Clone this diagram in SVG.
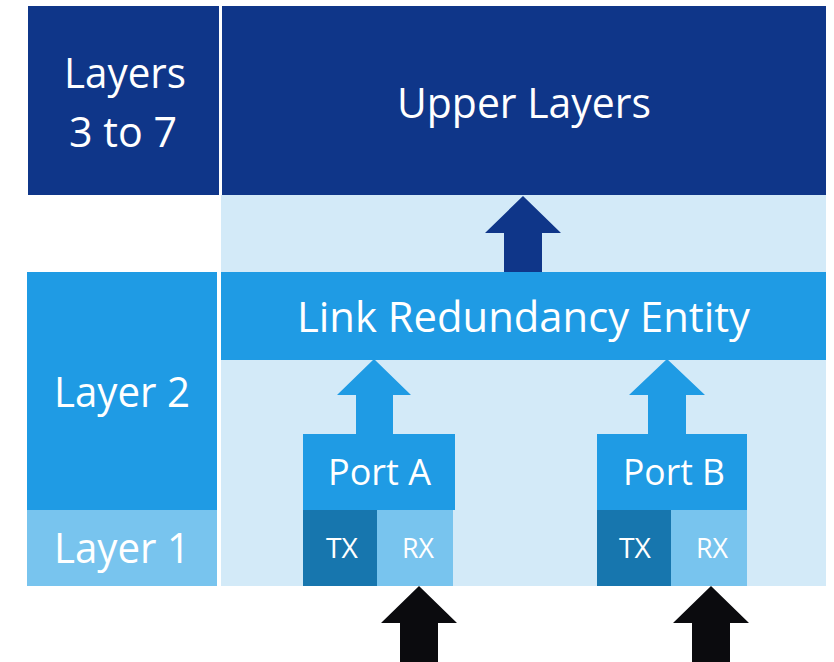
<svg xmlns="http://www.w3.org/2000/svg" width="834" height="662" viewBox="0 0 834 662">
<style>
.t{font-family:"Open Sans","Noto Sans","Liberation Sans",sans-serif;fill:#fff;}
.big{font-size:42px;}
.mid{font-size:36px;}
.sm{font-size:27px;}
.dark{fill:#0F3689;}
.med{fill:#1F9BE4;}
.light{fill:#78C4EE;}
.tx{fill:#1776AE;}
.bg{fill:#D3EAF8;}
.blk{fill:#0B0B0E;}
</style>
<rect width="834" height="662" fill="#fff"/>
<g id="background">
<rect class="bg" x="221" y="195" width="605" height="391"/>
</g>
<g id="layers37">
<rect class="dark" x="28" y="6" width="191" height="189"/>
<text class="t big" x="64" y="88" textLength="122" lengthAdjust="spacingAndGlyphs">Layers</text>
<text class="t big" x="69" y="147" textLength="108" lengthAdjust="spacingAndGlyphs">3 to 7</text>
</g>
<g id="upper">
<rect class="dark" x="222" y="6" width="604" height="189"/>
<text class="t big" x="397" y="118" textLength="254" lengthAdjust="spacingAndGlyphs">Upper Layers</text>
</g>
<g id="layer2">
<rect class="med" x="27" y="272" width="190" height="238"/>
<text class="t big" x="54" y="407" textLength="136" lengthAdjust="spacingAndGlyphs">Layer 2</text>
</g>
<g id="layer1">
<rect class="light" x="27" y="510" width="190" height="76"/>
<text class="t big" x="54" y="563" textLength="136" lengthAdjust="spacingAndGlyphs">Layer 1</text>
</g>
<g id="lre">
<rect class="med" x="221" y="272" width="605" height="88"/>
<text class="t big" x="297" y="332" textLength="453" lengthAdjust="spacingAndGlyphs">Link Redundancy Entity</text>
</g>
<g id="portA">
<rect class="med" x="303" y="434" width="152" height="76"/>
<text class="t mid" x="328" y="485" textLength="103" lengthAdjust="spacingAndGlyphs">Port A</text>
<rect class="tx" x="303" y="510" width="74" height="76"/>
<rect class="light" x="377" y="510" width="76" height="76"/>
<text class="t sm" x="326" y="558" textLength="32" lengthAdjust="spacingAndGlyphs">TX</text>
<text class="t sm" x="402" y="558" textLength="32" lengthAdjust="spacingAndGlyphs">RX</text>
</g>
<g id="portB">
<rect class="med" x="597" y="434" width="150" height="76"/>
<text class="t mid" x="623" y="485" textLength="102" lengthAdjust="spacingAndGlyphs">Port B</text>
<rect class="tx" x="597" y="510" width="74" height="76"/>
<rect class="light" x="671" y="510" width="76" height="76"/>
<text class="t sm" x="619" y="558" textLength="32" lengthAdjust="spacingAndGlyphs">TX</text>
<text class="t sm" x="696" y="558" textLength="32" lengthAdjust="spacingAndGlyphs">RX</text>
</g>
<g id="connectors">
<polygon class="dark" points="523,196 561,233 542,233 542,272 504,272 504,233 485,233"/>
<polygon class="med" points="374,359 411,395 393,395 393,434 356,434 356,395 337,395"/>
<polygon class="med" points="667,359 705,395 686,395 686,434 648,434 648,395 629,395"/>
<polygon class="blk" points="419,586 457,623 438,623 438,662 400,662 400,623 381,623"/>
<polygon class="blk" points="711,586 749,623 730,623 730,662 692,662 692,623 673,623"/>
</g>
</svg>
